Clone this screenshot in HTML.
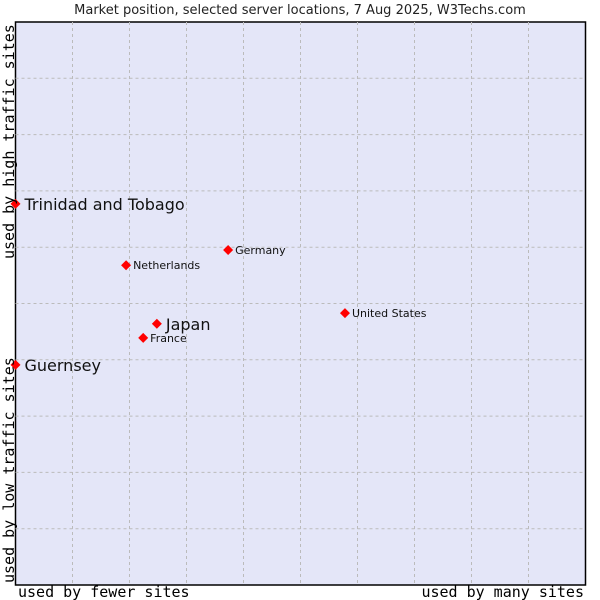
<!DOCTYPE html>
<html><head><meta charset="utf-8"><style>
body{margin:0;background:#fff;}
svg{display:block;}
</style></head><body>
<svg id="chart" width="600" height="600" xmlns="http://www.w3.org/2000/svg">
<rect width="600" height="600" fill="#fff"/>
<text x="300" y="14" text-anchor="middle" font-family="DejaVu Sans, sans-serif" font-size="13" fill="#222">Market position, selected server locations, 7 Aug 2025, W3Techs.com</text>
<rect x="15.5" y="22" width="570" height="563" fill="#e4e6f8" stroke="#000" stroke-width="1.5"/>
<g id="grid"></g>
<g id="points"></g>
<text x="18" y="597" font-family="DejaVu Sans Mono, monospace" font-size="15" fill="#000">used by fewer sites</text>
<text x="584" y="597" text-anchor="end" font-family="DejaVu Sans Mono, monospace" font-size="15" fill="#000">used by many sites</text>
<text transform="translate(14,583) rotate(-90)" font-family="DejaVu Sans Mono, monospace" font-size="15" fill="#000">used by low traffic sites</text>
<text transform="translate(14,259) rotate(-90)" font-family="DejaVu Sans Mono, monospace" font-size="15" fill="#000">used by high traffic sites</text>
</svg>
<script>
const names = ["Trinidad and Tobago","Guernsey","Germany","Netherlands","United States","Japan","France"];
const xValues = [0,0,37.3,19.4,57.8,24.8,22.4];
const yValues = [67.7,39.1,59.5,56.8,48.3,46.4,43.9];
const bigLabel = [true,true,false,false,false,true,false];
const L=15.5,T=22,W=570,H=563;
const sx=v=>L+v/100*W, sy=v=>T+H-v/100*H;
const NS="http://www.w3.org/2000/svg";
const grid=document.getElementById('grid');
for(let i=1;i<10;i++){
  const v=document.createElementNS(NS,'line');
  v.setAttribute('x1',sx(i*10));v.setAttribute('x2',sx(i*10));v.setAttribute('y1',T);v.setAttribute('y2',T+H);
  v.setAttribute('stroke','#bbb');v.setAttribute('stroke-dasharray','3,3');
  
  
  grid.appendChild(v);
  const h=document.createElementNS(NS,'line');
  h.setAttribute('y1',sy(i*10));h.setAttribute('y2',sy(i*10));h.setAttribute('x1',L);h.setAttribute('x2',L+W);
  h.setAttribute('stroke','#bbb');h.setAttribute('stroke-dasharray','3,3');
  
  
  grid.appendChild(h);
}
const pts=document.getElementById('points');
names.forEach((n,i)=>{
  const x=sx(xValues[i]),y=sy(yValues[i]);
  const d=document.createElementNS(NS,'polygon');
  d.setAttribute('points',`${x},${y-5} ${x+5},${y} ${x},${y+5} ${x-5},${y}`);
  d.setAttribute('fill','#f00');
  
  
  pts.appendChild(d);
  const t=document.createElementNS(NS,'text');
  t.setAttribute('x',x+(bigLabel[i]?9:7));
  t.setAttribute('y',y+(bigLabel[i]?6:4));
  t.setAttribute('font-family','DejaVu Sans, sans-serif');
  t.setAttribute('font-size',bigLabel[i]?16:11);
  t.setAttribute('fill','#111');
  t.textContent=n;
  
  
  pts.appendChild(t);
});
</script>
</body></html>
